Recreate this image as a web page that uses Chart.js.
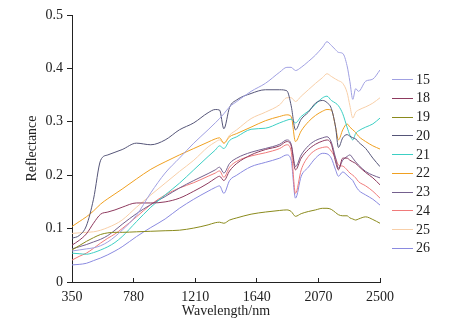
<!DOCTYPE html>
<html>
<head>
<meta charset="utf-8">
<script src="https://cdn.jsdelivr.net/npm/chart.js@4"></script>
<style>
html,body{margin:0;padding:0;background:#fff;}
#wrap{width:452px;height:328px;position:relative;}
</style>
</head>
<body>
<div id="wrap"><canvas id="c"></canvas></div>
<script>
const wavelengths = [350,400,450,500,550,600,650,700,800,900,1000,1100,1200,1300,1350,1380,1410,1450,1500,1600,1700,1800,1850,1880,1910,1950,2000,2050,2100,2130,2160,2190,2210,2240,2270,2290,2310,2330,2350,2400,2450,2500];

const seriesNames = ['15','18','19','20','21','22','23','24','25','26'];

const s15 = [.058,.06,.062,.064,.068,.075,.085,.097,.125,.167,.204,.232,.26,.285,.298,.306,.315,.328,.338,.357,.372,.393,.402,.402,.396,.402,.413,.425,.44,.45,.443,.435,.43,.428,.405,.375,.342,.362,.357,.376,.38,.397];
const s18 = [.069,.078,.09,.11,.127,.131,.135,.14,.148,.148,.15,.157,.17,.185,.194,.198,.19,.208,.222,.238,.248,.255,.263,.255,.21,.232,.248,.258,.264,.266,.258,.225,.21,.232,.232,.228,.225,.222,.217,.205,.195,.182];
const s19 = [.06,.068,.076,.083,.089,.092,.093,.093,.094,.095,.096,.097,.101,.107,.111,.112,.11,.116,.12,.127,.131,.134,.135,.132,.123,.128,.132,.135,.138,.138,.136,.13,.126,.124,.124,.12,.118,.116,.118,.122,.117,.11];
const s20 = [.082,.087,.105,.155,.228,.238,.243,.248,.26,.257,.266,.285,.298,.317,.323,.322,.287,.327,.341,.353,.36,.36,.358,.33,.285,.305,.318,.335,.34,.336,.325,.29,.252,.27,.276,.273,.27,.268,.262,.25,.232,.216];
const s21 = [.054,.053,.052,.055,.06,.066,.074,.085,.113,.14,.163,.185,.21,.235,.247,.255,.25,.265,.272,.286,.288,.298,.303,.305,.298,.31,.32,.333,.345,.348,.34,.335,.33,.315,.29,.275,.266,.278,.283,.29,.296,.307];
const s22 = [.104,.113,.122,.133,.146,.156,.165,.174,.193,.211,.225,.238,.25,.262,.268,.27,.26,.272,.278,.29,.302,.31,.313,.31,.263,.283,.3,.312,.32,.323,.322,.29,.266,.285,.296,.29,.285,.28,.273,.263,.255,.249];
const s23 = [.062,.066,.07,.075,.08,.087,.097,.108,.128,.145,.16,.176,.19,.203,.21,.215,.204,.222,.232,.243,.25,.258,.266,.258,.216,.238,.255,.265,.27,.272,.262,.232,.213,.228,.235,.238,.232,.225,.219,.207,.2,.195];
const s24 = [.041,.048,.054,.063,.073,.082,.09,.1,.122,.145,.163,.176,.186,.198,.204,.208,.196,.215,.226,.236,.242,.25,.257,.245,.166,.21,.235,.247,.252,.253,.245,.232,.219,.217,.21,.204,.2,.195,.188,.18,.17,.157];
const s25 = [.091,.092,.093,.094,.097,.102,.108,.116,.14,.163,.185,.207,.228,.253,.262,.266,.26,.275,.285,.306,.318,.332,.345,.345,.338,.348,.36,.372,.383,.39,.385,.38,.377,.372,.355,.33,.307,.318,.322,.328,.335,.345];
const s26 = [.032,.033,.035,.04,.045,.051,.058,.066,.085,.102,.118,.138,.155,.17,.177,.18,.166,.19,.2,.216,.224,.232,.238,.228,.157,.198,.215,.232,.241,.24,.232,.21,.198,.206,.2,.195,.19,.18,.172,.163,.155,.144];

const xTickValues = [350,780,1210,1640,2070,2500];
const xTickLabels = ['350','780','1210','1640','2070','2500'];
const yTickValues = [0,0.1,0.2,0.3,0.4,0.5];
const yTickLabels = ['0','0.1','0.2','0.3','0.4','0.5'];

const seriesValues = [s15,s18,s19,s20,s21,s22,s23,s24,s25,s26];
const colors = ['#a0a0e2','#8e3a5e','#8a8a1c','#555578','#3ccfc4','#f0a020','#74608e','#f07a7a','#f8cfa8','#8a8ae0'];

const FONT = "'Liberation Serif', 'Times New Roman', serif";

const datasets = seriesNames.map((n,i)=>({
  label: n,
  data: wavelengths.map((w,j)=>({x:w,y:seriesValues[i][j]})),
  borderColor: colors[i],
  backgroundColor: colors[i],
  borderWidth: 1,
  pointRadius: 0,
  cubicInterpolationMode: 'monotone',
  fill: false
}));

const legendPlugin = {
  id: 'sideLegend',
  afterDraw(chart){
    const ctx = chart.ctx;
    ctx.save();
    ctx.font = '14px ' + FONT;
    ctx.textBaseline = 'middle';
    ctx.textAlign = 'left';
    chart.data.datasets.forEach((ds,i)=>{
      const y = 79 + i*18.75;
      ctx.strokeStyle = ds.borderColor;
      ctx.lineWidth = 1;
      ctx.beginPath();
      ctx.moveTo(392, Math.round(y) + 0.5);
      ctx.lineTo(413, Math.round(y) + 0.5);
      ctx.stroke();
      ctx.fillStyle = '#222';
      ctx.fillText(ds.label, 416, y + 1);
    });
    ctx.restore();
  }
};

new Chart(document.getElementById('c'), {
  type: 'line',
  data: { datasets },
  options: {
    responsive: true,
    maintainAspectRatio: false,
    devicePixelRatio: 1,
    animation: false,
    layout: { padding: { top: 15, right: 72, left: 0, bottom: 0 } },
    plugins: { legend: { display: false }, tooltip: { enabled: false } },
    scales: {
      x: {
        type: 'linear',
        min: 350, max: 2500,
        afterBuildTicks: s => { s.ticks = xTickValues.map(v=>({value:v})); },
        afterFit: s => { s.height = 46; },
        grid: { drawOnChartArea: false, drawTicks: true, tickLength: -4, color: '#222' },
        border: { display: true, color: '#222', width: 1 },
        ticks: { color: '#222', font: { family: FONT, size: 14 }, padding: 10.6, maxRotation: 0, autoSkip: false,
          callback: (v) => { const k = xTickValues.indexOf(v); return k >= 0 ? xTickLabels[k] : ''; } },
        title: { display: true, text: 'Wavelength/nm', color: '#222', font: { family: FONT, size: 14 }, padding: { top: 0, bottom: 8 } }
      },
      y: {
        min: 0, max: 0.5,
        afterBuildTicks: s => { s.ticks = yTickValues.map(v=>({value:v})); },
        afterFit: s => { s.width = 72; },
        grid: { drawOnChartArea: false, drawTicks: true, tickLength: 5, color: '#222' },
        border: { display: true, color: '#222', width: 1 },
        ticks: { color: '#222', font: { family: FONT, size: 14 }, padding: 4,
          callback: (v) => { const k = yTickValues.indexOf(Math.round(v*10)/10); return k >= 0 ? yTickLabels[k] : ''; } },
        title: { display: true, text: 'Reflectance', color: '#222', font: { family: FONT, size: 14 }, padding: { top: 24, bottom: 0 } }
      }
    }
  },
  plugins: [legendPlugin]
});
</script>
</body>
</html>
